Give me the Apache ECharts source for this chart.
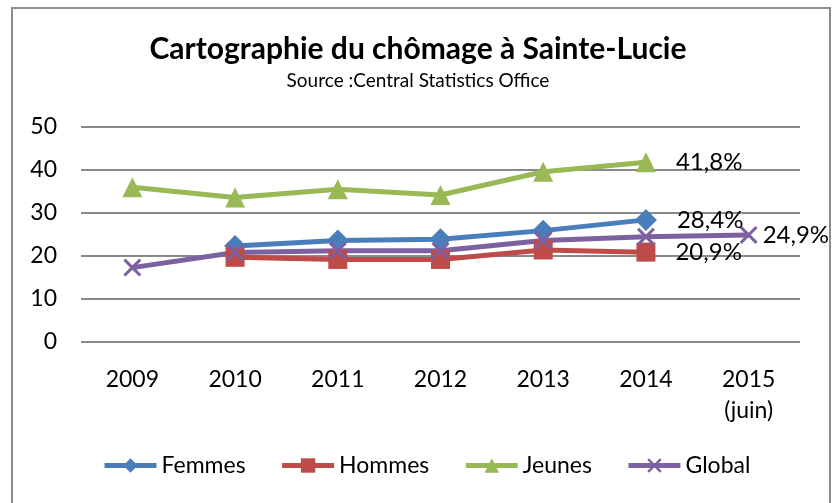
<!DOCTYPE html>
<html>
<head>
<meta charset="utf-8">
<script src="https://cdn.jsdelivr.net/npm/echarts@6/dist/echarts.min.js"></script>
<style>
  html, body { margin: 0; padding: 0; background: #fff; }
  #chart { width: 836px; height: 503px; }
</style>
</head>
<body>
<div id="chart"></div>
<script>
// années (axe x)
const annees = ['2009', '2010', '2011', '2012', '2013', '2014', '2015\n(juin)'];
// taux de chômage (%)
const femmes = [null, 22.3, 23.6, 23.9, 25.9, 28.4, null];
const hommes = [null, 19.7, 19.2, 19.2, 21.4, 20.9, null];
const jeunes = [36.0, 33.6, 35.5, 34.2, 39.6, 41.8, null];
const global = [17.3, 20.8, 21.2, 21.2, 23.6, 24.5, 24.9];
const yTicks = [0, 10, 20, 30, 40, 50];

const police = 'Lato, "Open Sans", sans-serif';
const croix = 'path://M0,1.2L1.2,0L10,8.8L8.8,10Z M8.8,0L10,1.2L1.2,10L0,8.8Z';

// étiquette seulement sur le dernier point
function avecEtiquette(arr, idx, dist) {
  return arr.map(function (v, i) {
    if (i !== idx) return v;
    return {
      value: v,
      label: {
        show: true,
        position: 'right',
        distance: dist,
        color: '#000',
        fontFamily: police,
        fontSize: 24,
        formatter: function (p) { return p.value.toFixed(1).replace('.', ',') + '%'; }
      }
    };
  });
}

function serie(nom, data, couleur, symbole, taille) {
  return {
    name: nom,
    type: 'line',
    data: data,
    symbol: symbole,
    symbolSize: taille,
    showAllSymbol: true,
    connectNulls: false,
    animation: false,
    lineStyle: { width: 5, color: couleur },
    itemStyle: { color: couleur },
    emphasis: { disabled: true }
  };
}

const chart = echarts.init(document.getElementById('chart'));
chart.setOption({
  backgroundColor: '#fff',
  title: {
    text: 'Cartographie du chômage à Sainte-Lucie',
    subtext: 'Source :Central Statistics Office',
    left: 'center',
    top: 29,
    itemGap: 7,
    textStyle: { fontFamily: police, fontWeight: 'bold', fontSize: 30, color: '#000' },
    subtextStyle: { fontFamily: police, fontSize: 19, color: '#000' }
  },
  graphic: [{
    type: 'rect',
    shape: { x: 12, y: 8, width: 818, height: 520 },
    style: { fill: 'none', stroke: '#8c8c8c', lineWidth: 2 },
    silent: true
  }],
  legend: {
    bottom: 21,
    left: 97,
    itemWidth: 52,
    itemHeight: 18,
    itemGap: 34,
    lineStyle: { width: 5 },
    textStyle: { fontFamily: police, fontSize: 23, color: '#000' },
    data: ['Femmes', 'Hommes', 'Jeunes', 'Global']
  },
  grid: { left: 81, right: 36, top: 127, bottom: 161 },
  xAxis: {
    type: 'category',
    data: annees,
    boundaryGap: true,
    axisLine: { show: false },
    axisTick: { show: false },
    axisLabel: { fontFamily: police, fontSize: 23, color: '#000', margin: 22, lineHeight: 31 }
  },
  yAxis: {
    type: 'value',
    min: yTicks[0],
    max: yTicks[yTicks.length - 1],
    interval: 10,
    axisLine: { show: false },
    axisTick: { show: false },
    axisLabel: { fontFamily: police, fontSize: 23, color: '#000', margin: 24 },
    splitLine: { lineStyle: { color: '#8a8a8a', width: 2 } }
  },
  series: [
    serie('Femmes', avecEtiquette(femmes, 5, 20), '#4a7ebb', 'diamond', 22),
    serie('Hommes', avecEtiquette(hommes, 5, 20), '#be4b48', 'rect', 19),
    serie('Jeunes', avecEtiquette(jeunes, 5, 20), '#98b954', 'triangle', 20),
    serie('Global', avecEtiquette(global, 6, 5), '#7d60a0', croix, 18)
  ]
});
</script>
</body>
</html>
